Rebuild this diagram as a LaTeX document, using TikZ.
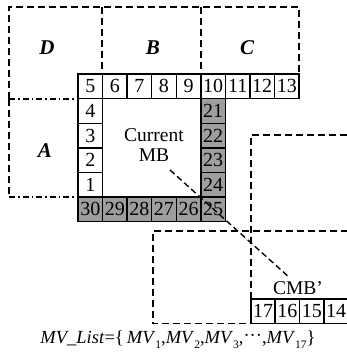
\documentclass[tikz,border=0pt]{standalone}
\usepackage{fontspec}
\setmainfont{Liberation Serif}
\definecolor{cellgray}{RGB}{158,158,158}
\begin{document}
\begin{tikzpicture}[x=1pt,y=-1pt,
  cell/.style={draw=black,line width=1.4pt,minimum width=24.56pt,minimum height=24.6pt,inner sep=0pt,font=\fontsize{20}{22}\selectfont},
  gcell/.style={cell,fill=cellgray},
  region/.style={line width=1.5pt,dash pattern=on 7pt off 4pt},
  regiondd/.style={line width=1.5pt,dash pattern=on 6pt off 3pt on 1.5pt off 3pt},
  lbl/.style={font=\fontsize{21}{22}\selectfont\bfseries\itshape},
  txt/.style={font=\fontsize{19.5}{21}\selectfont,align=center,inner sep=0pt}]
\useasboundingbox (0,0) rectangle (347,353);
% region outlines
\draw[region] (9,99) -- (9,7) -- (299,7) -- (299,74);
\draw[region] (102,7) -- (102,74);
\draw[region] (201,7) -- (201,74);
\draw[regiondd] (9,99) -- (78,99);
\draw[region] (9,99) -- (9,197);
\draw[regiondd] (9,197) -- (78,197);
\draw[region] (251,299) -- (251,135) -- (348,135);
\draw[region] (348,231) -- (153,231) -- (153,323.6) -- (251,323.6);
% labels
\node[lbl] (lD) at (47,48) {D};
\node[lbl] (lB) at (153,48) {B};
\node[lbl] (lC) at (247,48) {C};
\node[lbl] (lA) at (45,151) {A};
% top row
\foreach \n [count=\i from 0] in {5,6,7,8,9,10,11,12,13}
  \node[cell] (c\n) at ({78+24.56*(\i+0.5)},86.3) {\n};
% left column
\foreach \n [count=\i from 1] in {4,3,2,1}
  \node[cell] (c\n) at ({78+24.56*0.5},{74+24.6*(\i+0.5)}) {\n};
% right column
\foreach \n [count=\i from 1] in {21,22,23,24}
  \node[gcell] (c\n) at ({78+24.56*5.5},{74+24.6*(\i+0.5)}) {\n};
% bottom row
\foreach \n [count=\i from 0] in {30,29,28,27,26,25}
  \node[gcell] (c\n) at ({78+24.56*(\i+0.5)},{74+24.6*5.5}) {\n};
% CMB' row
\foreach \n [count=\i from 0] in {17,16,15,14}
  \node[cell] (c\n) at ({251+24.3*(\i+0.5)},311.3) {\n};
% texts
\node[txt] (cur) at (154,145) {Current\\[-1pt]MB};
\node[txt] (cmb) at (298,288) {CMB'};
\coordinate (p1) at (170,170);
\coordinate (p2) at (290,278);
\draw[line width=1.4pt,dash pattern=on 6pt off 3.5pt] (p1) -- (p2);
\node[txt,font=\fontsize{18.5}{20}\selectfont] (mvl) at (178,340)
 {\textit{MV\_List}=\{\,\textit{MV}\raisebox{-0.6ex}{\fontsize{11.5}{12}\selectfont 1},\textit{MV}\raisebox{-0.6ex}{\fontsize{11.5}{12}\selectfont 2},\textit{MV}\raisebox{-0.6ex}{\fontsize{11.5}{12}\selectfont 3},\raisebox{0.25ex}{\textperiodcentered\textperiodcentered\textperiodcentered},\textit{MV}\raisebox{-0.6ex}{\fontsize{11.5}{12}\selectfont 17}\}};
\end{tikzpicture}
\end{document}
